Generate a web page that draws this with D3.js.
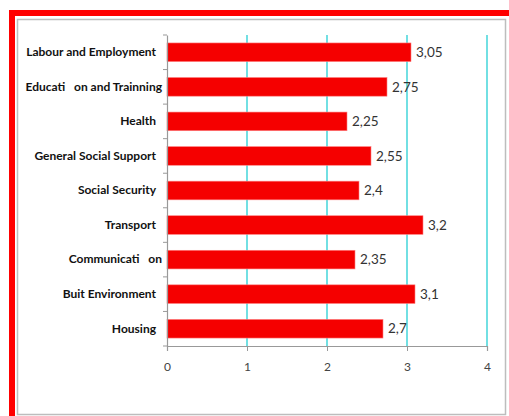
<!DOCTYPE html>
<html>
<head>
<meta charset="utf-8">
<script src="https://cdn.jsdelivr.net/npm/d3@7"></script>
<style>
  html, body { margin: 0; padding: 0; background: #fff; }
  svg { display: block; }
</style>
</head>
<body>
<svg id="chart" width="509" height="416"></svg>
<script>
// chart data
const categories = ['Labour and Employment', 'Educati   on and Trainning', 'Health',
  'General Social Support', 'Social Security', 'Transport',
  'Communicati   on', 'Buit Environment', 'Housing'];
const values = [3.05, 2.75, 2.25, 2.55, 2.4, 3.2, 2.35, 3.1, 2.7];
const valueLabels = ['3,05', '2,75', '2,25', '2,55', '2,4', '3,2', '2,35', '3,1', '2,7'];
const xTicks = [0, 1, 2, 3, 4];

const svg = d3.select('#chart');
const W = 509, H = 416;
const plot = { left: 167, right: 487, top: 35, bottom: 346 };
const font = 'Lato, "Open Sans", sans-serif';

// red outer frame (top and left visible)
svg.append('rect').attr('x', 9).attr('y', 10).attr('width', W - 9).attr('height', 6).attr('fill', '#ff0000');
svg.append('rect').attr('x', 9).attr('y', 10).attr('width', 6).attr('height', H - 10).attr('fill', '#ff0000');

// gray chart border
svg.append('rect').attr('x', 17.5).attr('y', 19.5).attr('width', 488).attr('height', 395)
  .attr('fill', 'none').attr('stroke', '#bdbdbd').attr('stroke-width', 1.5);

const x = d3.scaleLinear().domain([0, 4]).range([plot.left, plot.right]);
const y = d3.scaleBand().domain(categories).range([plot.top, plot.bottom]).paddingInner(0.46).paddingOuter(0.23);

const g = svg.append('g');

// gridlines
g.selectAll('line.grid').data(xTicks.filter(d => d > 0)).enter().append('line')
  .attr('class', 'grid')
  .attr('x1', d => x(d)).attr('x2', d => x(d))
  .attr('y1', plot.top).attr('y2', plot.bottom)
  .attr('stroke', '#4fd8dc').attr('stroke-width', 1.6);

// bars
g.selectAll('rect.bar').data(values).enter().append('rect')
  .attr('class', 'bar')
  .attr('x', x(0))
  .attr('y', (d, i) => y(categories[i]))
  .attr('width', d => x(d) - x(0))
  .attr('height', y.bandwidth())
  .attr('fill', '#f50000')
  .attr('stroke', '#ff8080').attr('stroke-width', 0.6);

// value labels
g.selectAll('text.val').data(values).enter().append('text')
  .attr('class', 'val')
  .attr('x', d => x(d) + 5)
  .attr('y', (d, i) => y(categories[i]) + y.bandwidth() / 2)
  .attr('dy', '0.35em')
  .attr('font-family', font)
  .attr('font-size', 13.5)
  .attr('fill', '#333')
  .text((d, i) => valueLabels[i]);

// y axis
const yAxis = d3.axisLeft(y.copy().paddingInner(0).paddingOuter(0)).tickSize(0).tickPadding(11);
const ya = svg.append('g').attr('transform', `translate(${plot.left},0)`).call(yAxis);
ya.select('.domain').attr('stroke', '#999').attr('stroke-width', 1.2);
ya.selectAll('text')
  .attr('font-family', font)
  .attr('font-weight', 'bold')
  .attr('font-size', 12)
  .attr('fill', '#111')
  .style('white-space', 'pre')
  // the split labels sit a little further right in the original
  .attr('dx', d => d.includes('   ') ? 6 : 0);
// category boundary ticks
const step = (plot.bottom - plot.top) / categories.length;
svg.selectAll('line.ytick').data(d3.range(categories.length + 1)).enter().append('line')
  .attr('class', 'ytick')
  .attr('x1', plot.left - 4).attr('x2', plot.left)
  .attr('y1', d => plot.top + d * step).attr('y2', d => plot.top + d * step)
  .attr('stroke', '#999');

// x axis
const xAxis = d3.axisBottom(x).tickValues(xTicks).tickSize(5).tickPadding(11).tickFormat(d3.format('d'));
const xa = svg.append('g').attr('transform', `translate(0,${plot.bottom})`).call(xAxis);
xa.select('.domain').attr('stroke', '#999').attr('stroke-width', 1.2);
xa.selectAll('.tick line').attr('stroke', '#999');
xa.selectAll('text')
  .attr('font-family', font)
  .attr('font-size', 12)
  .attr('fill', '#444');
</script>
</body>
</html>
